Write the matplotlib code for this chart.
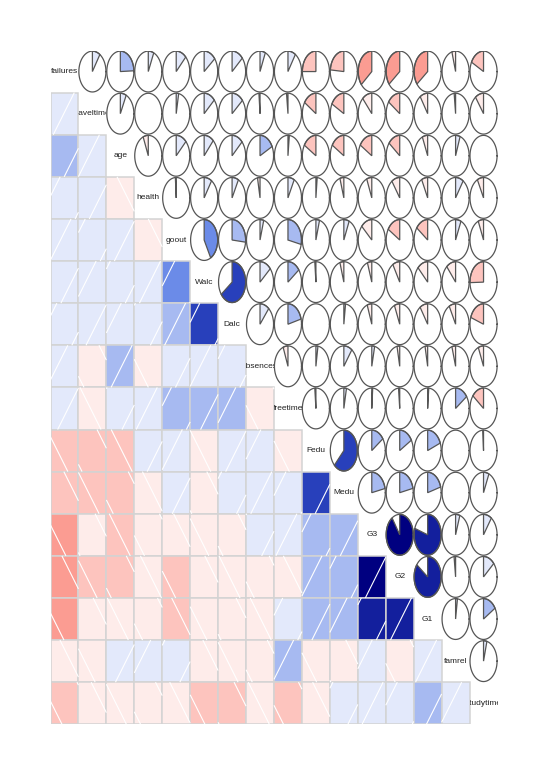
import numpy as np
import matplotlib
matplotlib.use("Agg")
import matplotlib.pyplot as plt
from matplotlib.patches import Rectangle, Polygon
from matplotlib.colors import LinearSegmentedColormap
from matplotlib.transforms import Bbox, TransformedBbox

# variables in corrgram order
variables = ["failures", "traveltime", "age", "health", "goout", "Walc", "Dalc",
             "absences", "freetime", "Fedu", "Medu", "G3", "G2", "G1", "famrel", "studytime"]

# upper triangle of the correlation matrix, one list per row (columns to the right of the diagonal)
corr_failures   = [0.093, 0.244, 0.066, 0.124, 0.142, 0.136, 0.064, 0.092, -0.250, -0.237, -0.360, -0.356, -0.355, -0.044, -0.174]
corr_traveltime = [0.071, 0.008, 0.029, 0.134, 0.138, -0.013, -0.017, -0.158, -0.171, -0.117, -0.153, -0.093, -0.017, -0.101]
corr_age        = [-0.062, 0.127, 0.117, 0.131, 0.175, 0.016, -0.163, -0.163, -0.162, -0.144, -0.064, 0.054, -0.004]
corr_health     = [-0.010, 0.092, 0.077, -0.030, 0.076, 0.015, -0.047, -0.061, -0.098, -0.073, 0.094, -0.075]
corr_goout      = [0.420, 0.267, 0.044, 0.285, 0.043, 0.064, -0.133, -0.162, -0.149, 0.065, -0.064]
corr_walc       = [0.648, 0.136, 0.148, -0.013, -0.047, -0.052, -0.085, -0.126, -0.113, -0.254]
corr_dalc       = [0.111, 0.209, 0.002, 0.020, -0.055, -0.064, -0.094, -0.078, -0.196]
corr_absences   = [-0.058, 0.024, 0.100, 0.034, -0.032, -0.031, -0.044, -0.063]
corr_freetime   = [-0.013, 0.031, 0.011, -0.014, 0.013, 0.151, -0.144]
corr_fedu       = [0.623, 0.152, 0.165, 0.190, -0.001, -0.009]
corr_medu       = [0.217, 0.216, 0.205, -0.004, 0.065]
corr_g3         = [0.905, 0.801, 0.051, 0.098]
corr_g2         = [0.852, -0.018, 0.136]
corr_g1         = [0.022, 0.161]
corr_famrel     = [0.040]

upper_rows = [corr_failures, corr_traveltime, corr_age, corr_health, corr_goout, corr_walc,
              corr_dalc, corr_absences, corr_freetime, corr_fedu, corr_medu, corr_g3,
              corr_g2, corr_g1, corr_famrel]

n = len(variables)
C = np.eye(n)
for i, row in enumerate(upper_rows):
    for k, v in enumerate(row):
        C[i, i + 1 + k] = v
        C[i + 1 + k, i] = v

# corrgram palette: red - salmon - white - royalblue - navy, 14 bins
cmap = LinearSegmentedColormap.from_list("cg", ["#FF0000", "#FA8072", "#FFFFFF", "#4169E1", "#000080"])
ncol = 14
pal = [cmap(t) for t in np.linspace(0, 1, ncol)]
breaks = np.linspace(-1, 1, ncol + 1)

def col_for(r):
    idx = int(np.searchsorted(breaks, r, side="left"))
    idx = min(max(idx, 1), ncol)
    return pal[idx - 1]

W, H = 548, 775
fig = plt.figure(figsize=(W / 100, H / 100), dpi=100)
left, right, top, bottom = 50.5, 497.5, 50.5, 724.3
ax = fig.add_axes([left / W, 1 - bottom / H, (right - left) / W, (bottom - top) / H])
ax.set_xlim(0, n)
ax.set_ylim(n, 0)
ax.axis("off")

cell_w = (right - left) / n
cell_h = (bottom - top) / n
slope = 2.0 * cell_w / cell_h      # hatch slope in cell units
spacing = 36.0 / cell_w            # horizontal hatch spacing in cell units
edge = "#555555"

for i in range(n):
    for j in range(n):
        r = C[i, j]
        if i == j:
            t = ax.text(j + 0.5, i + 0.5, variables[i], ha="center", va="center",
                        fontsize=6, family="Liberation Sans", color="#222222", clip_on=True)
            t.set_clip_box(TransformedBbox(Bbox([[j, i], [j + 1, i + 1]]), ax.transData))
        elif i > j:
            # shaded square with hatching (each panel has its own hatch offset)
            ax.add_patch(Rectangle((j, i), 1, 1, facecolor=col_for(r), edgecolor="none"))
            phase = j + ((0.618 * (i * n + j)) % 1.0) * spacing
            u0, u1 = j, j + 1
            v0, v1 = n - (i + 1), n - i
            segs = []
            if r > 0:
                kmin = int(np.floor((u0 - v1 / slope - phase) / spacing)) - 1
                kmax = int(np.ceil((u1 - v0 / slope - phase) / spacing)) + 1
                for k in range(kmin, kmax + 1):
                    c = phase + k * spacing
                    va = max(v0, slope * (u0 - c))
                    vb = min(v1, slope * (u1 - c))
                    if vb > va:
                        segs.append(((c + va / slope, n - va), (c + vb / slope, n - vb)))
            else:
                kmin = int(np.floor((u0 + v0 / slope - phase) / spacing)) - 1
                kmax = int(np.ceil((u1 + v1 / slope - phase) / spacing)) + 1
                for k in range(kmin, kmax + 1):
                    c = phase + k * spacing
                    va = max(v0, slope * (c - u1))
                    vb = min(v1, slope * (c - u0))
                    if vb > va:
                        segs.append(((c - va / slope, n - va), (c - vb / slope, n - vb)))
            for (xa, ya), (xb, yb) in segs:
                ax.plot([xa, xb], [ya, yb], color="white", lw=0.8, solid_capstyle="butt")
            ax.add_patch(Rectangle((j, i), 1, 1, fill=False, edgecolor="#D3D3D3", lw=1.1))
        else:
            # pie
            cx, cy = j + 0.5, i + 0.5
            rx = ry = 0.5 * 0.97
            a = np.linspace(0, 2 * np.pi, 61)
            ax.plot(cx + np.cos(a) * rx, cy - np.sin(a) * ry, color=edge, lw=0.9)
            segments = int(round(60 * abs(r)))
            if segments > 0:
                ang = np.linspace(np.pi / 2, np.pi / 2 - 2 * np.pi * r, segments + 1)
                px = list(cx + np.cos(ang) * rx) + [cx, cx + np.cos(ang[0]) * rx]
                py = list(cy - np.sin(ang) * ry) + [cy, cy - np.sin(ang[0]) * ry]
                ax.add_patch(Polygon(np.column_stack([px, py]), closed=True,
                                     facecolor=col_for(r), edgecolor=edge, lw=0.9))

fig.savefig("out.png", dpi=100)
